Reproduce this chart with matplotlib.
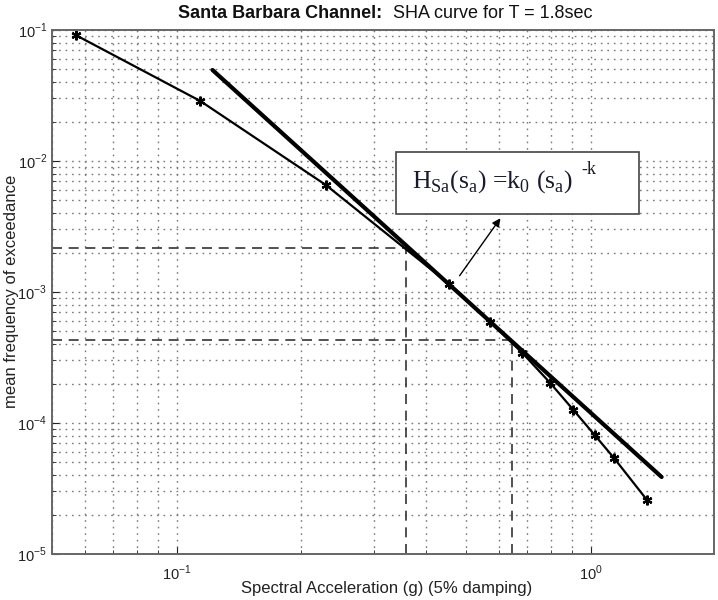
import matplotlib
matplotlib.use("Agg")
import matplotlib.pyplot as plt

plt.rcParams["font.family"] = ["Liberation Sans", "DejaVu Sans"]
plt.rcParams["mathtext.fontset"] = "custom"
plt.rcParams["mathtext.rm"] = "Liberation Sans"

# hazard curve points (Sa in g, annual frequency of exceedance)
sa = [0.057, 0.114, 0.229, 0.455, 0.571, 0.683, 0.797, 0.906, 1.02, 1.136, 1.365]
freq = [0.0916, 0.0287, 0.00656, 0.00115, 5.9e-4, 3.42e-4, 2.02e-4, 1.26e-4, 8.1e-5, 5.4e-5, 2.58e-5]

# power-law fit H = k0 * Sa^-k, drawn between its two end points
sa_fit = [0.122, 1.48]
freq_fit = [0.0495, 3.87e-5]

# the two intensity levels marked with dashed guides
sa_marks = [0.358, 0.645]
freq_marks = [2.15e-3, 4.3e-4]

W, H = 718, 600
fig = plt.figure(figsize=(W / 100, H / 100), dpi=100)
ax = fig.add_axes([52 / W, 1 - 554 / H, 662 / W, 524 / H])

ax.set_xscale("log")
ax.set_yscale("log")
ax.set_xlim(0.05, 1.98)
ax.set_ylim(1e-5, 1e-1)

ax.grid(True, which="both", linestyle=(0, (1.2, 3.5)), color="#7a7a7a", linewidth=1.0)
ax.set_axisbelow(True)

# dashed guides down to the axes
for s, f in zip(sa_marks, freq_marks):
    ax.plot([0.05, s], [f, f], linestyle="--", linewidth=1.2, dashes=(6, 4), color="#333333")
    ax.plot([s, s], [1e-5, f], linestyle="--", linewidth=1.2, dashes=(6, 4), color="#333333")

ax.plot(sa, freq, color="black", linewidth=1.6, marker=(6, 2, 0),
        markersize=7, markeredgewidth=1.6)
ax.plot(sa_fit, freq_fit, color="black", linewidth=3.0, solid_capstyle="round")

ax.set_xticks([0.1, 1.0])
ax.set_xticklabels([r"$10^{-1}$", r"$10^{0}$"])
ax.set_yticks([1e-5, 1e-4, 1e-3, 1e-2, 1e-1])
ax.set_yticklabels([r"$10^{-5}$", r"$10^{-4}$", r"$10^{-3}$", r"$10^{-2}$", r"$10^{-1}$"])
ax.tick_params(which="both", direction="in", labelsize=10.5, colors="#222222")
ax.tick_params(axis="x", pad=7)
ax.tick_params(which="major", length=5)
ax.tick_params(which="minor", length=3)
for sp in ax.spines.values():
    sp.set_color("#666666")
    sp.set_linewidth(1.4)

fig.text(387 / W, 1 - 589 / H, "Spectral Acceleration (g) (5% damping)",
         fontsize=12, color="#222222", ha="center", va="center")
fig.text(12 / W, 1 - 291 / H, "mean frequency of exceedance", rotation=90,
         fontsize=12, color="#222222", ha="center", va="center")

fig.text(382 / W, 1 - 14 / H, "Santa Barbara Channel:", fontsize=13, fontweight="bold",
         ha="right", va="center", color="#111111")
fig.text(393 / W, 1 - 14 / H, "SHA curve for T = 1.8sec", fontsize=13,
         ha="left", va="center", color="#111111")

# equation box with arrow pointing at the fitted line
ax.annotate("", xy=(502 / W, 1 - 216 / H), xycoords="figure fraction",
            xytext=(458 / W, 1 - 278 / H), textcoords="figure fraction",
            arrowprops=dict(arrowstyle="-|>", color="black", linewidth=1.0, mutation_scale=12))
fig.patches.append(plt.Rectangle((396 / W, 1 - 214 / H), 243 / W, 62 / H,
                                 transform=fig.transFigure, facecolor="white",
                                 edgecolor="#444444", linewidth=1.2))
eq = fig.text(412 / W, 1 - 182 / H,
              r"H$_{\mathregular{Sa}}$(s$_{\mathregular{a}}$) =k$_{\mathregular{0}}$ (s$_{\mathregular{a}}$)",
              family=["Liberation Serif"], fontsize=18.5, va="center", ha="left", color="#1a1a2e")
fig.canvas.draw()
eq_right = eq.get_window_extent().x1
fig.text((eq_right + 8) / W, 1 - 170 / H, "-k", family=["Liberation Serif"], fontsize=13,
         va="center", ha="left", color="#1a1a2e")

fig.savefig("out.png", dpi=100)
